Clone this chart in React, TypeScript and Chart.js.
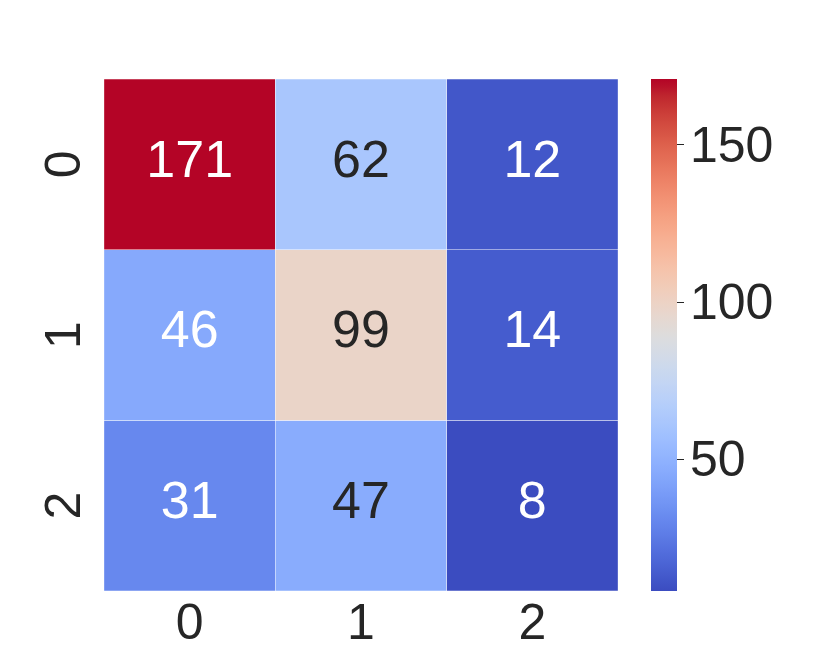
import React, { useEffect, useRef } from 'react';
import { Chart, registerables } from 'chart.js';

Chart.register(...registerables);

const ROW_LABELS = ['0', '1', '2'];
const COL_LABELS = ['0', '1', '2'];
const ROW_0 = [171, 62, 12];
const ROW_1 = [46, 99, 14];
const ROW_2 = [31, 47, 8];
const VALUES = [ROW_0, ROW_1, ROW_2];
const VMIN = 8;
const VMAX = 171;
const CBAR_TICKS = [50, 100, 150];

const FONT_FAMILY = "'Liberation Sans', Arial, sans-serif";
const TEXT_COLOR = '#262626';

// matplotlib coolwarm anchors
const COOLWARM: number[][] = [
  [0.2298057, 0.298717966, 0.753683153],
  [0.26623388, 0.353094838, 0.801466763],
  [0.30386891, 0.406535296, 0.84495867],
  [0.342804478, 0.458757618, 0.883725899],
  [0.38301334, 0.50941904, 0.917387822],
  [0.424369608, 0.558148092, 0.945619588],
  [0.46666708, 0.604562568, 0.968154911],
  [0.509635204, 0.648280772, 0.98478814],
  [0.552953156, 0.688929332, 0.995375608],
  [0.596262162, 0.726149107, 0.999836203],
  [0.639176211, 0.759599947, 0.998151185],
  [0.681291281, 0.788964712, 0.990363227],
  [0.722193294, 0.813952739, 0.976574709],
  [0.761464949, 0.834302879, 0.956945269],
  [0.798691636, 0.849786142, 0.931688648],
  [0.833466556, 0.860207984, 0.901068838],
  [0.865395197, 0.86541021, 0.865395561],
  [0.897787179, 0.848937047, 0.820880546],
  [0.924127593, 0.827384882, 0.774508472],
  [0.944468518, 0.800927443, 0.726736146],
  [0.958852946, 0.769767752, 0.678007945],
  [0.96732803, 0.734132809, 0.628751763],
  [0.969954137, 0.694266682, 0.579375448],
  [0.966811177, 0.650421156, 0.530263762],
  [0.958003065, 0.602842431, 0.481775914],
  [0.943660866, 0.551750968, 0.434243684],
  [0.923944917, 0.49730856, 0.387970225],
  [0.89904617, 0.439559467, 0.343229596],
  [0.869186849, 0.378313092, 0.300267182],
  [0.834620542, 0.312874446, 0.259301199],
  [0.795631745, 0.24128379, 0.220525627],
  [0.752534934, 0.157246067, 0.184115123],
  [0.705673158, 0.01555616, 0.150232812],
];

function coolwarmRGB(t: number): number[] {
  const tt = Math.max(0, Math.min(1, t));
  const idx = Math.min(255, Math.floor(tt * 256));
  const q = idx / 255;
  const pos = q * (COOLWARM.length - 1);
  const i0 = Math.min(COOLWARM.length - 2, Math.floor(pos));
  const f = pos - i0;
  const a = COOLWARM[i0];
  const b = COOLWARM[i0 + 1];
  return [0, 1, 2].map((k) => a[k] + (b[k] - a[k]) * f);
}

function toCss(rgb: number[]): string {
  return `rgb(${Math.round(rgb[0] * 255)}, ${Math.round(rgb[1] * 255)}, ${Math.round(rgb[2] * 255)})`;
}

function colorFor(v: number): string {
  return toCss(coolwarmRGB((v - VMIN) / (VMAX - VMIN)));
}

function luminance(rgb: number[]): number {
  const lin = rgb.map((c) => (c <= 0.03928 ? c / 12.92 : Math.pow((c + 0.055) / 1.055, 2.4)));
  return 0.2126 * lin[0] + 0.7152 * lin[1] + 0.0722 * lin[2];
}

function textColorFor(v: number): string {
  const lum = luminance(coolwarmRGB((v - VMIN) / (VMAX - VMIN)));
  return lum > 0.408 ? TEXT_COLOR : '#ffffff';
}

const annotatePlugin = {
  id: 'cellAnnotations',
  afterDatasetsDraw(chart: any) {
    const ctx = chart.ctx;
    ctx.save();
    ctx.font = `52px ${FONT_FAMILY}`;
    ctx.textAlign = 'center';
    ctx.textBaseline = 'middle';
    chart.data.datasets.forEach((_ds: any, r: number) => {
      const meta = chart.getDatasetMeta(r);
      meta.data.forEach((bar: any, c: number) => {
        const p = bar.getProps(['x', 'y', 'base'], true);
        const v = VALUES[r][c];
        ctx.fillStyle = textColorFor(v);
        ctx.fillText(String(v), p.x, (p.y + p.base) / 2 - 2);
      });
    });
    ctx.restore();
  },
};

export default function App() {
  const heatRef = useRef<HTMLCanvasElement>(null);
  const cbarRef = useRef<HTMLCanvasElement>(null);

  useEffect(() => {
    const font = { family: FONT_FAMILY, size: 50 };
    const heat = new Chart(heatRef.current as HTMLCanvasElement, {
      type: 'bar',
      data: {
        labels: COL_LABELS,
        datasets: VALUES.map((row, r) => ({
          label: ROW_LABELS[r],
          data: row.map(() => [r, r + 1]),
          backgroundColor: row.map(colorFor),
          borderColor: '#ffffff',
          borderWidth: 0.5,
          borderSkipped: false,
          grouped: false,
          barPercentage: 1,
          categoryPercentage: 1,
        })) as any,
      },
      options: {
        responsive: false,
        animation: false,
        layout: { padding: { left: 0, right: 212, top: 79, bottom: 0 } },
        plugins: { legend: { display: false }, tooltip: { enabled: false } },
        scales: {
          x: {
            grid: { display: false, drawTicks: false },
            border: { display: false },
            ticks: { font, color: TEXT_COLOR, padding: 4 },
            afterFit: (s: any) => {
              s.height = 73;
            },
          },
          y: {
            min: 0,
            max: 3,
            reverse: true,
            grid: { display: false, drawTicks: false },
            border: { display: false },
            afterBuildTicks: (s: any) => {
              s.ticks = ROW_LABELS.map((_l, i) => ({ value: i + 0.5 }));
            },
            ticks: {
              callback: (_v: any, i: number) => ROW_LABELS[i],
              minRotation: 90,
              maxRotation: 90,
              crossAlign: 'center',
              padding: 24,
              font,
              color: TEXT_COLOR,
            },
            afterFit: (s: any) => {
              s.width = 104;
            },
          },
        } as any,
      },
      plugins: [annotatePlugin],
    });

    const cbar = new Chart(cbarRef.current as HTMLCanvasElement, {
      type: 'bar',
      data: {
        labels: ['cbar'],
        datasets: [
          {
            data: [[VMIN, VMAX]] as any,
            backgroundColor: (ctx: any) => {
              const chart = ctx.chart;
              const area = chart.chartArea;
              if (!area) return 'transparent';
              const g = chart.ctx.createLinearGradient(0, area.bottom, 0, area.top);
              for (let i = 0; i <= 64; i++) {
                const t = i / 64;
                g.addColorStop(t, toCss(coolwarmRGB(t)));
              }
              return g;
            },
            borderWidth: 0,
            barPercentage: 1,
            categoryPercentage: 1,
          },
        ],
      },
      options: {
        responsive: false,
        animation: false,
        layout: { padding: { left: 651, right: 0, top: 79, bottom: 73 } },
        plugins: { legend: { display: false }, tooltip: { enabled: false } },
        scales: {
          x: { display: false },
          y: {
            position: 'right',
            min: VMIN,
            max: VMAX,
            afterBuildTicks: (s: any) => {
              s.ticks = CBAR_TICKS.map((v) => ({ value: v }));
            },
            grid: {
              drawOnChartArea: false,
              drawTicks: true,
              tickLength: 7,
              color: TEXT_COLOR,
              lineWidth: 1,
            },
            border: { display: false },
            ticks: { font, color: TEXT_COLOR, padding: 6, labelOffset: 3 },
            afterFit: (s: any) => {
              s.width = 153;
            },
          },
        } as any,
      },
    });

    return () => {
      heat.destroy();
      cbar.destroy();
    };
  }, []);

  const canvasStyle: React.CSSProperties = {
    position: 'absolute',
    left: 0,
    top: 0,
    width: 830,
    height: 664,
  };

  return (
    <div style={{ position: 'absolute', left: 0, top: 0, width: 830, height: 664, background: '#ffffff' }}>
      <canvas ref={heatRef} width={830} height={664} style={canvasStyle} />
      <canvas ref={cbarRef} width={830} height={664} style={canvasStyle} />
    </div>
  );
}
